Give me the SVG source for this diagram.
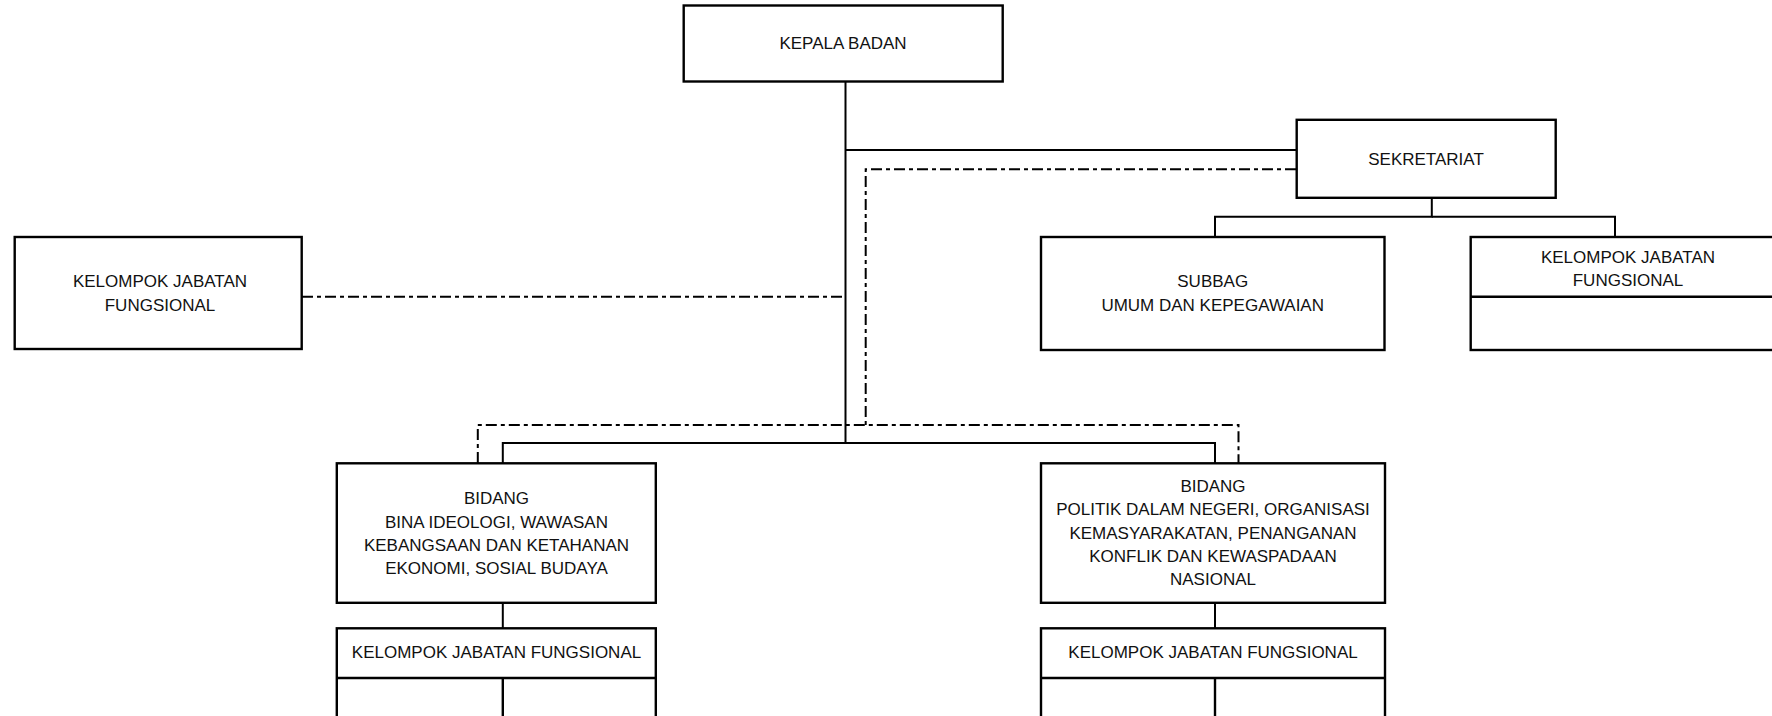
<svg xmlns="http://www.w3.org/2000/svg" width="1772" height="716" viewBox="0 0 1772 716">
  <style>
    .box { fill: #fff; stroke: #000; stroke-width: 2.4; }
    .sep { fill: none; stroke: #000; stroke-width: 2.4; }
    .ln { fill: none; stroke: #000; stroke-width: 2; }
    .dd { fill: none; stroke: #000; stroke-width: 2; stroke-dasharray: 11 4 4 4; }
    text { font-family: "Liberation Sans", Arial, sans-serif; font-size: 17px; fill: #111; text-anchor: middle; }
  </style>
  <rect width="1772" height="716" fill="#fff"/>

  <!-- connectors -->
  <g id="connectors">
    <!-- head down to the two divisions -->
    <path class="ln" d="M845.5 81 V443"/>
    <path class="ln" d="M845.5 150 H1297"/>
    <path class="ln" d="M502.8 463 V443 H1215 V463"/>
    <!-- secretariat to its units -->
    <path class="ln" d="M1431.8 198 V216.7 H1215 V237"/>
    <path class="ln" d="M1431.8 216.7 H1615 V237"/>
    <!-- coordination lines -->
    <path class="dd" d="M1296 169.3 H865.7 V425"/>
    <path class="dd" d="M477.8 463 V425 H1238.5 V463"/>
    <path class="dd" d="M302 296.7 H845"/>
    <!-- division to functional groups -->
    <path class="ln" d="M502.8 603 V628"/>
    <path class="ln" d="M1215 603 V628"/>
  </g>

  <g id="kepala-badan">
    <rect class="box" x="683.7" y="5.5" width="319" height="76"/>
    <text x="843" y="49">KEPALA BADAN</text>
  </g>

  <g id="sekretariat">
    <rect class="box" x="1296.7" y="119.8" width="259" height="78"/>
    <text x="1426" y="165">SEKRETARIAT</text>
  </g>

  <g id="kelompok-kiri">
    <rect class="box" x="14.7" y="237" width="287" height="112"/>
    <text x="160" y="287.4">KELOMPOK JABATAN</text>
    <text x="160" y="310.8">FUNGSIONAL</text>
  </g>

  <g id="subbag-umum">
    <rect class="box" x="1041" y="237" width="343.5" height="113"/>
    <text x="1212.7" y="287.4">SUBBAG</text>
    <text x="1212.7" y="310.8">UMUM DAN KEPEGAWAIAN</text>
  </g>

  <g id="kelompok-sekretariat">
    <rect class="box" x="1470.7" y="237" width="316" height="113"/>
    <path class="sep" d="M1470.7 296.7 H1786"/>
    <text x="1628" y="262.8">KELOMPOK JABATAN</text>
    <text x="1628" y="286.1">FUNGSIONAL</text>
  </g>

  <g id="bidang-ideologi">
    <rect class="box" x="336.8" y="463.3" width="319" height="139.5"/>
    <text x="496.5" y="504.4">BIDANG</text>
    <text x="496.5" y="527.8">BINA IDEOLOGI, WAWASAN</text>
    <text x="496.5" y="551.1">KEBANGSAAN DAN KETAHANAN</text>
    <text x="496.5" y="574.4">EKONOMI, SOSIAL BUDAYA</text>
  </g>

  <g id="bidang-politik">
    <rect class="box" x="1041" y="463.3" width="344" height="139.5"/>
    <text x="1213" y="492">BIDANG</text>
    <text x="1213" y="515.4">POLITIK DALAM NEGERI, ORGANISASI</text>
    <text x="1213" y="538.8">KEMASYARAKATAN, PENANGANAN</text>
    <text x="1213" y="562.1">KONFLIK DAN KEWASPADAAN</text>
    <text x="1213" y="585.4">NASIONAL</text>
  </g>

  <g id="kelompok-ideologi">
    <rect class="box" x="336.8" y="628.3" width="319" height="100"/>
    <path class="sep" d="M336.8 678 H655.8"/>
    <path class="sep" d="M502.8 678 V720"/>
    <text x="496.5" y="657.8">KELOMPOK JABATAN FUNGSIONAL</text>
  </g>

  <g id="kelompok-politik">
    <rect class="box" x="1041" y="628.3" width="344" height="100"/>
    <path class="sep" d="M1041 678 H1385"/>
    <path class="sep" d="M1215 678 V720"/>
    <text x="1213" y="657.8">KELOMPOK JABATAN FUNGSIONAL</text>
  </g>
</svg>
